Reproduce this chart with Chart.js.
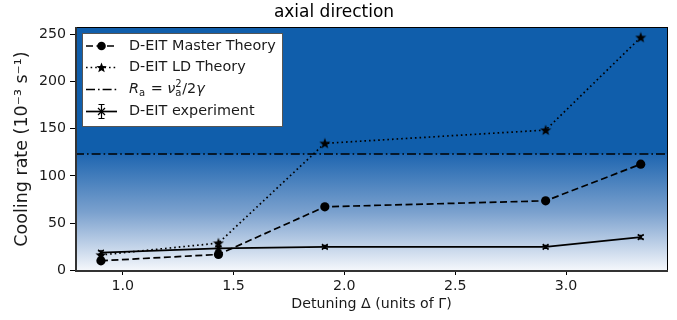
<!DOCTYPE html>
<html>
<head>
<meta charset="utf-8">
<script src="https://cdn.jsdelivr.net/npm/chart.js@4.4.1/dist/chart.umd.min.js"></script>
<style>
html,body{margin:0;padding:0;background:#fff;}
#wrap{width:677px;height:320px;position:relative;}
</style>
</head>
<body>
<div id="wrap"><canvas id="c" width="677" height="320"></canvas></div>
<script>
// ---- data ----
const DETUNING = [0.902, 1.432, 1.912, 2.908, 3.337];
const MASTER_THEORY = [10.3, 17.0, 67.4, 73.7, 112.5];
const LD_THEORY = [16.5, 29.0, 134.5, 148.5, 246.5];
const EXPERIMENT = [19.0, 23.5, 25.0, 25.0, 35.3];
const EXPERIMENT_ERR = [1.8, 1.8, 1.5, 1.5, 1.8];
const RA_VALUE = 123.2;
const X_TICKS = [1.0, 1.5, 2.0, 2.5, 3.0];
const Y_TICKS = [0, 50, 100, 150, 200, 250];
const X_MIN = 0.785, X_MAX = 3.46, Y_MIN = -0.5, Y_MAX = 257.5;
const LABELS = ['D-EIT Master Theory', 'D-EIT LD Theory', 'R_a', 'D-EIT experiment'];

const FONT = '"DejaVu Sans", Verdana, sans-serif';
const DASH = [7, 3.5], DOT = [1.6, 3], DASHDOT = [9, 3, 1.6, 3];

function starPath(ctx, cx, cy, R) {
  const r = R * 0.42;
  ctx.beginPath();
  for (let i = 0; i < 10; i++) {
    const ang = -Math.PI / 2 + i * Math.PI / 5;
    const rad = i % 2 === 0 ? R : r;
    const px = cx + rad * Math.cos(ang), py = cy + rad * Math.sin(ang);
    if (i === 0) ctx.moveTo(px, py); else ctx.lineTo(px, py);
  }
  ctx.closePath();
}
const starImg = document.createElement('canvas');
starImg.width = 12; starImg.height = 12;
(function(){ const g = starImg.getContext('2d'); g.fillStyle = '#000'; starPath(g, 6, 6.4, 5.8); g.fill(); })();

const ptsOf = (ys) => DETUNING.map((x, i) => ({x, y: ys[i]}));

const bgPlugin = {
  id: 'bg',
  beforeDraw(chart) {
    const {ctx, chartArea: a, scales} = chart;
    const yRa = scales.y.getPixelForValue(RA_VALUE);
    ctx.save();
    ctx.fillStyle = '#105eab';
    ctx.fillRect(a.left, a.top, a.right - a.left, yRa - a.top);
    const g = ctx.createLinearGradient(0, yRa, 0, a.bottom);
    g.addColorStop(0, '#1f66b0');
    g.addColorStop(0.5, '#7ba1ce');
    g.addColorStop(1, '#f6f8fc');
    ctx.fillStyle = g;
    ctx.fillRect(a.left, yRa, a.right - a.left, a.bottom - yRa);
    ctx.restore();
  }
};

const overlayPlugin = {
  id: 'overlay',
  afterDatasetsDraw(chart) {
    const {ctx, chartArea: a, scales} = chart;
    ctx.save();
    // error bars
    ctx.strokeStyle = '#000'; ctx.lineWidth = 1.2;
    DETUNING.forEach((x, i) => {
      const px = scales.x.getPixelForValue(x);
      const y1 = scales.y.getPixelForValue(EXPERIMENT[i] - EXPERIMENT_ERR[i]);
      const y2 = scales.y.getPixelForValue(EXPERIMENT[i] + EXPERIMENT_ERR[i]);
      ctx.beginPath();
      ctx.moveTo(px, y1); ctx.lineTo(px, y2);
      ctx.moveTo(px - 3, y1); ctx.lineTo(px + 3, y1);
      ctx.moveTo(px - 3, y2); ctx.lineTo(px + 3, y2);
      ctx.stroke();
    });
    // frame
    ctx.strokeStyle = '#000'; ctx.lineWidth = 1;
    ctx.strokeRect(a.left + 0.5, a.top + 0.5, a.right - a.left - 1, a.bottom - a.top - 1);
    ctx.strokeStyle = '#333'; ctx.lineWidth = 2;
    ctx.beginPath();
    ctx.moveTo(a.left + 1, a.top); ctx.lineTo(a.left + 1, a.bottom);
    ctx.lineTo(a.right, a.bottom);
    ctx.stroke();

    // legend
    const lx = 82, ly = 33, lw = 201, lh = 94;
    ctx.fillStyle = '#fff';
    ctx.fillRect(lx, ly, lw, lh);
    ctx.strokeStyle = '#555'; ctx.lineWidth = 1;
    ctx.strokeRect(lx + 0.5, ly + 0.5, lw - 1, lh - 1);
    const rows = [46, 67.5, 89.5, 111.5];
    const sx0 = 86, sx1 = 117, sxm = 101.5, tx = 129;
    ctx.strokeStyle = '#000'; ctx.fillStyle = '#000'; ctx.lineWidth = 1.7;
    // master
    ctx.setLineDash(DASH);
    ctx.beginPath(); ctx.moveTo(sx0, rows[0]); ctx.lineTo(sx1, rows[0]); ctx.stroke();
    ctx.setLineDash([]);
    ctx.beginPath(); ctx.arc(sxm, rows[0], 4.3, 0, Math.PI * 2); ctx.fill();
    // LD
    ctx.setLineDash(DOT);
    ctx.beginPath(); ctx.moveTo(sx0, rows[1]); ctx.lineTo(sx1, rows[1]); ctx.stroke();
    ctx.setLineDash([]);
    starPath(ctx, sxm, rows[1] + 0.4, 5.5); ctx.fill();
    // Ra
    ctx.setLineDash(DASHDOT);
    ctx.beginPath(); ctx.moveTo(sx0, rows[2]); ctx.lineTo(sx1, rows[2]); ctx.stroke();
    ctx.setLineDash([]);
    // experiment
    ctx.beginPath(); ctx.moveTo(sx0, rows[3]); ctx.lineTo(sx1, rows[3]); ctx.stroke();
    ctx.lineWidth = 1.2;
    ctx.beginPath();
    ctx.moveTo(sxm, rows[3] - 7); ctx.lineTo(sxm, rows[3] + 7);
    ctx.moveTo(sxm - 3, rows[3] - 7); ctx.lineTo(sxm + 3, rows[3] - 7);
    ctx.moveTo(sxm - 3, rows[3] + 7); ctx.lineTo(sxm + 3, rows[3] + 7);
    ctx.moveTo(sxm - 3.5, rows[3] - 3.5); ctx.lineTo(sxm + 3.5, rows[3] + 3.5);
    ctx.moveTo(sxm + 3.5, rows[3] - 3.5); ctx.lineTo(sxm - 3.5, rows[3] + 3.5);
    ctx.stroke();

    ctx.fillStyle = '#1a1a1a';
    ctx.textBaseline = 'middle'; ctx.textAlign = 'left';
    ctx.font = '14.4px ' + FONT;
    ctx.fillText(LABELS[0], tx, rows[0]);
    ctx.fillText(LABELS[1], tx, rows[1]);
    ctx.fillText(LABELS[3], tx, rows[3]);
    // R_a = ν_a^2 / 2γ
    let x = tx; const y = rows[2];
    const put = (t, font, dy) => { ctx.font = font; ctx.fillText(t, x, y + dy); x += ctx.measureText(t).width; };
    put('R', 'italic 14.4px ' + FONT, 0);
    put('a', '10px ' + FONT, 4);
    x += 1;
    put(' = ', '14.4px ' + FONT, 0);
    put('ν', 'italic 14.4px ' + FONT, 0);
    const xAfter = x;
    ctx.font = '10px ' + FONT; ctx.fillText('2', xAfter, y - 5.5);
    const w2 = ctx.measureText('2').width;
    ctx.fillText('a', xAfter, y + 4);
    x = xAfter + Math.max(w2, ctx.measureText('a').width) + 0.5;
    put('/2', '14.4px ' + FONT, 0);
    put('γ', 'italic 14.4px ' + FONT, 0);
    ctx.restore();
  }
};

new Chart(document.getElementById('c'), {
  type: 'line',
  data: {
    datasets: [
      {
        label: LABELS[3], data: ptsOf(EXPERIMENT), borderColor: '#000', backgroundColor: '#000',
        borderWidth: 1.7, pointStyle: 'crossRot', pointRadius: 4, pointBorderWidth: 1.3, order: 1
      },
      {
        label: LABELS[0], data: ptsOf(MASTER_THEORY), borderColor: '#000', backgroundColor: '#000',
        borderWidth: 1.7, borderDash: DASH, pointStyle: 'circle', pointRadius: 4.6, pointBorderWidth: 0, order: 2
      },
      {
        label: LABELS[1], data: ptsOf(LD_THEORY), borderColor: '#000', backgroundColor: '#000',
        borderWidth: 1.7, borderDash: DOT, pointStyle: starImg, pointRadius: 5, order: 3
      },
      {
        label: LABELS[2], data: [{x: X_MIN, y: RA_VALUE}, {x: X_MAX, y: RA_VALUE}], borderColor: '#000',
        borderWidth: 1.7, borderDash: DASHDOT, pointRadius: 0, order: 4
      }
    ]
  },
  options: {
    responsive: false, animation: false, events: [],
    layout: {padding: {left: 0, right: 9, top: 0, bottom: 0}},
    plugins: {
      legend: {display: false}, tooltip: {enabled: false},
      title: {display: true, text: 'axial direction', color: '#000',
        font: {family: FONT, size: 17, weight: 'normal', lineHeight: 1.2}, padding: {top: 2.5, bottom: 4.1}}
    },
    scales: {
      x: {
        type: 'linear', min: X_MIN, max: X_MAX,
        afterBuildTicks: s => { s.ticks = X_TICKS.map(v => ({value: v})); },
        afterFit: s => { s.height = 49; },
        grid: {drawOnChartArea: false, drawTicks: true, tickLength: 4, color: '#000', lineWidth: 1},
        border: {display: false},
        ticks: {color: '#1a1a1a', font: {family: FONT, size: 14.2}, padding: 3, maxRotation: 0,
          callback: v => Number(v).toFixed(1)},
        title: {display: true, text: 'Detuning Δ (units of Γ)', color: '#1a1a1a',
          font: {family: FONT, size: 14.2}, padding: {top: 0, bottom: 7}}
      },
      y: {
        type: 'linear', min: Y_MIN, max: Y_MAX,
        afterBuildTicks: s => { s.ticks = Y_TICKS.map(v => ({value: v})); },
        afterFit: s => { s.width = 75; },
        grid: {drawOnChartArea: false, drawTicks: true, tickLength: 5, color: '#000', lineWidth: 1},
        border: {display: false},
        ticks: {color: '#1a1a1a', font: {family: FONT, size: 14.2}, padding: 4},
        title: {display: true, text: 'Cooling rate (10⁻³ s⁻¹)', color: '#1a1a1a',
          font: {family: FONT, size: 17.5}, padding: {top: 12, bottom: 0}}
      }
    }
  },
  plugins: [bgPlugin, overlayPlugin]
});
</script>
</body>
</html>
